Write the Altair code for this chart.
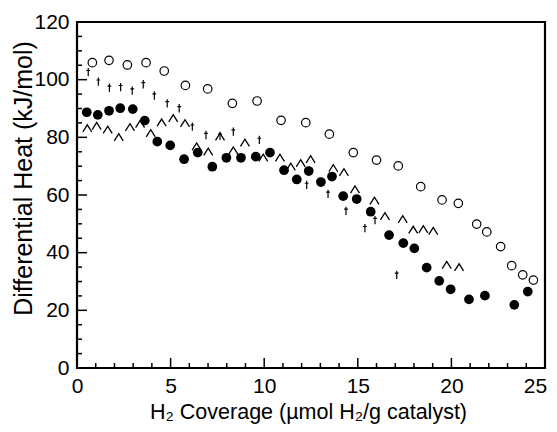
import altair as alt
import pandas as pd

# ---- data ----
open_x = [0.82, 1.71, 2.69, 3.69, 4.66, 5.79, 6.98, 8.30, 9.62, 10.90, 12.22, 13.48,
          14.76, 16.0, 17.16, 18.36, 19.5, 20.37, 21.35, 21.89, 22.63, 23.22, 23.81, 24.38]
open_y = [105.9, 106.7, 105.1, 105.9, 103.0, 98.0, 96.8, 91.8, 92.6, 85.9, 85.1, 81.1,
          74.7, 72.1, 70.1, 62.9, 58.3, 57.1, 49.9, 47.2, 42.1, 35.5, 32.3, 30.5]

filled_x = [0.52, 1.11, 1.71, 2.31, 2.98, 3.62, 4.29, 4.98, 5.72, 6.45, 7.23, 7.98,
            8.76, 9.55, 10.31, 11.06, 11.74, 12.38, 13.03, 13.62, 14.22, 14.94, 15.69,
            16.67, 17.43, 18.02, 18.68, 19.35, 19.96, 20.94, 21.79, 23.36, 24.08]
filled_y = [88.7, 87.8, 89.2, 90.1, 89.8, 85.8, 78.5, 77.2, 72.4, 74.7, 69.8, 72.9,
            72.9, 73.3, 74.7, 68.6, 65.4, 68.3, 64.5, 66.4, 59.6, 58.6, 54.2,
            46.1, 43.3, 41.5, 34.8, 30.2, 27.3, 23.8, 25.1, 21.9, 26.5]

tri_x = [0.55, 1.05, 1.64, 2.23, 2.83, 3.37, 3.94, 4.52, 5.14, 5.77, 6.39, 7.01,
         7.64, 8.35, 8.97, 9.95, 10.84, 11.42, 11.95, 12.48, 13.69, 14.26, 14.85,
         15.89, 16.45, 17.4, 17.96, 18.5, 19.03, 19.75, 20.41]
tri_y = [83.1, 83.9, 82.6, 80.0, 83.5, 84.6, 81.4, 85.1, 86.6, 84.9, 76.8, 75.0,
         80.2, 75.4, 78.1, 72.9, 72.9, 69.8, 71.0, 72.4, 69.3, 67.9, 61.9,
         58.0, 52.6, 51.6, 47.9, 48.1, 47.5, 35.7, 34.9]

dag_x = [0.60, 1.14, 1.73, 2.33, 2.95, 3.54, 4.13, 4.82, 5.46, 6.16, 6.89, 7.64,
         8.35, 9.74, 12.27, 13.41, 14.37, 15.38, 15.92, 17.08]
dag_y = [102.6, 99.3, 97.2, 97.4, 96.2, 98.4, 94.5, 91.8, 90.1, 83.7, 80.8, 80.5,
         82.0, 79.1, 63.5, 60.4, 54.5, 48.5, 51.3, 32.3]

x_major = [0, 5, 10, 15, 20, 25]
x_minor = [1, 2, 3, 4, 6, 7, 8, 9, 11, 12, 13, 14, 16, 17, 18, 19, 21, 22, 23, 24]
y_major = [0, 20, 40, 60, 80, 100, 120]
y_minor = [5, 10, 15, 25, 30, 35, 45, 50, 55, 65, 70, 75, 85, 90, 95, 105, 110, 115]

FONT = "Liberation Sans"
W, H = 468, 346

xscale = alt.Scale(domain=[0, 25], nice=False, zero=False)
yscale = alt.Scale(domain=[0, 120], nice=False, zero=False)

xaxis = alt.Axis(values=x_major, ticks=False, tickSize=0, domain=False, grid=False,
                 labelFont=FONT, labelFontSize=21, labelColor="black", labelPadding=7,
                 labelOffset={"condition": {"test": "datum.value == 25", "value": -10},
                              "value": 0},
                 title="H\u2082 Coverage (\u00b5mol H\u2082/g catalyst)",
                 titleFont=FONT, titleFontSize=21.5, titleFontWeight="normal", titleColor="black",
                 titleX=231, titleY=44, titleBaseline="middle", titleAlign="center",
                 labelFlush=False)
yaxis = alt.Axis(values=y_major, ticks=False, tickSize=0, domain=False, grid=False,
                 labelFont=FONT, labelFontSize=21, labelColor="black", labelPadding=8,
                 title="Differential Heat (kJ/mol)",
                 titleFont=FONT, titleFontSize=25, titleFontWeight="normal", titleColor="black",
                 titleX=-54, titleY=156, titleAngle=270, titleBaseline="middle",
                 titleAlign="center", labelFlush=False)


def pts(xs, ys):
    return pd.DataFrame({"x": xs, "y": ys})


enc = dict(x=alt.X("x:Q", scale=xscale, axis=xaxis),
           y=alt.Y("y:Q", scale=yscale, axis=yaxis))

open_l = alt.Chart(pts(open_x, open_y)).mark_point(
    shape="circle", filled=False, stroke="black", strokeWidth=1.2, size=72, opacity=1
).encode(**enc)

filled_l = alt.Chart(pts(filled_x, filled_y)).mark_point(
    shape="circle", filled=True, fill="black", size=95, opacity=1
).encode(**enc)

tri_l = alt.Chart(pts(tri_x, tri_y)).mark_point(
    shape="M-1,0.8L0,-0.8L1,0.8", filled=False, stroke="black", strokeWidth=1.3,
    size=80, opacity=1
).encode(**enc)

dag_l = alt.Chart(pts(dag_x, dag_y)).mark_point(
    shape="M0,-1L0,1M-0.45,-0.4L0.45,-0.4", filled=False, stroke="black",
    strokeWidth=1.2, size=70, opacity=1
).encode(**enc)

xmaj = alt.Chart(pd.DataFrame({"x": x_major})).mark_rule(color="black", strokeWidth=1.5).encode(
    x=alt.X("x:Q", scale=xscale, axis=xaxis), y=alt.value(H), y2=alt.value(H - 10))
xmin = alt.Chart(pd.DataFrame({"x": x_minor})).mark_rule(color="black", strokeWidth=1.5).encode(
    x=alt.X("x:Q", scale=xscale, axis=xaxis), y=alt.value(H), y2=alt.value(H - 5))
ymaj = alt.Chart(pd.DataFrame({"y": y_major})).mark_rule(color="black", strokeWidth=1.5).encode(
    y=alt.Y("y:Q", scale=yscale, axis=yaxis), x=alt.value(0), x2=alt.value(10))
ymin = alt.Chart(pd.DataFrame({"y": y_minor})).mark_rule(color="black", strokeWidth=1.5).encode(
    y=alt.Y("y:Q", scale=yscale, axis=yaxis), x=alt.value(0), x2=alt.value(5))

chart = alt.layer(xmaj, xmin, ymaj, ymin, open_l, filled_l, tri_l, dag_l).properties(
    width=W, height=H,
    autosize=alt.AutoSizeParams(type="none"),
    padding={"left": 69, "top": 14, "right": 4, "bottom": 56},
    background="white",
).configure_view(stroke="black", strokeWidth=2.2)

chart.save("out.html", embed_options={"renderer": "svg", "actions": False})
